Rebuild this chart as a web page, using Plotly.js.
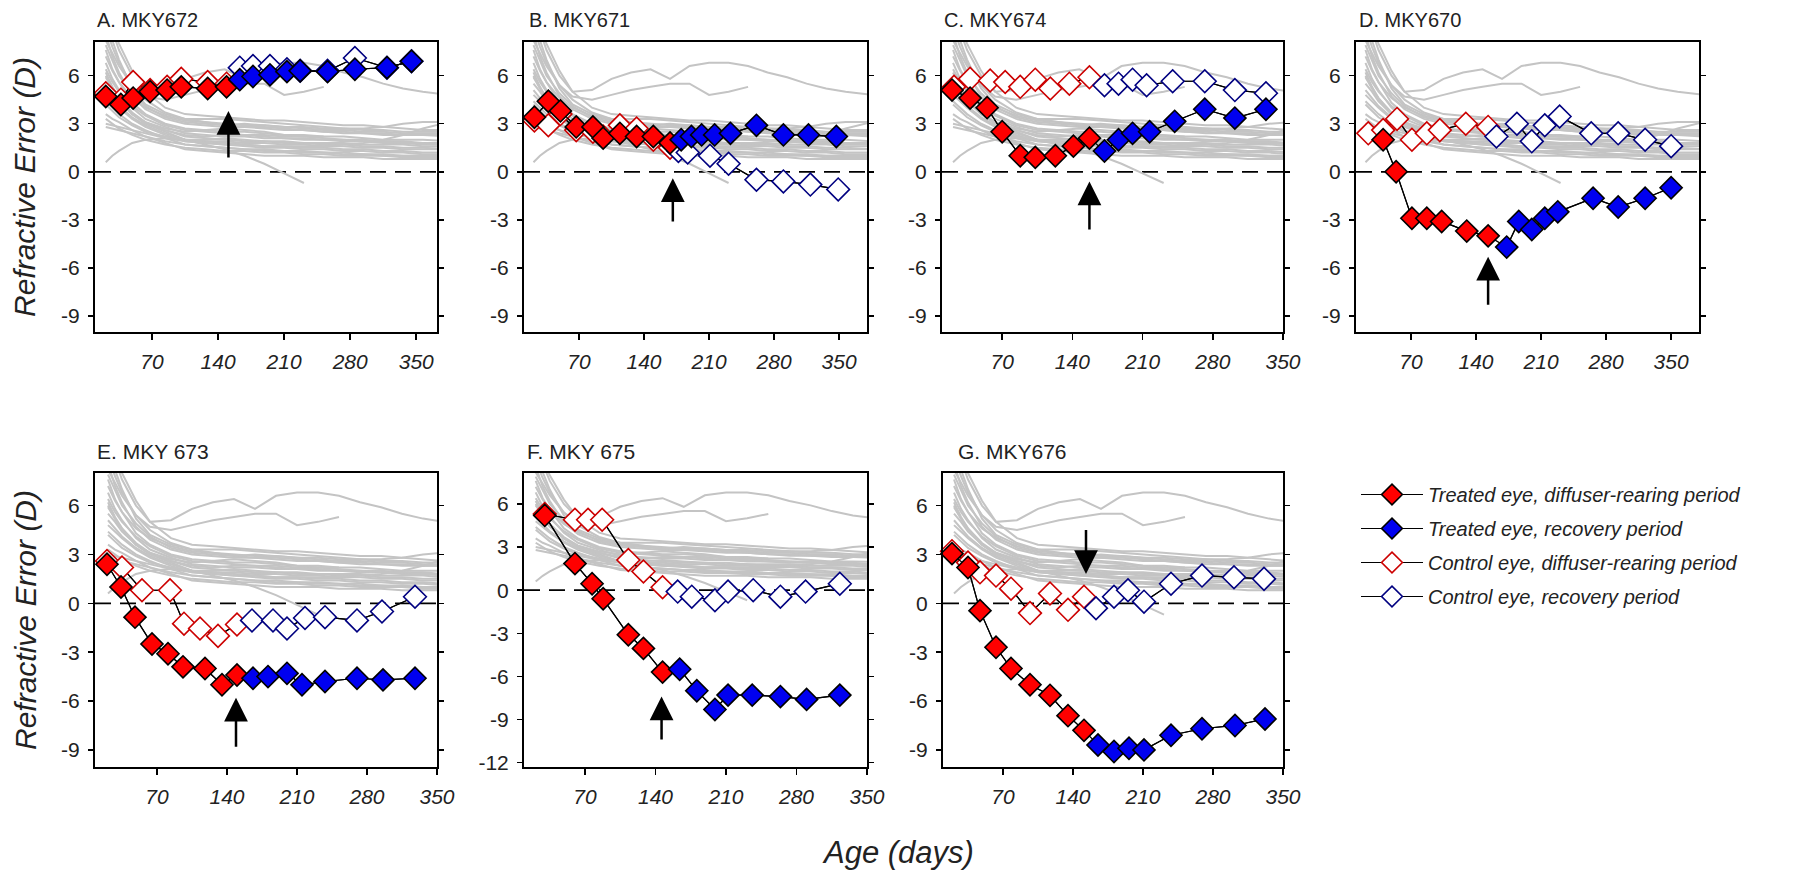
<!DOCTYPE html>
<html><head><meta charset="utf-8">
<script src="https://cdn.plot.ly/plotly-3.0.1.min.js"></script>
<style>html,body{margin:0;padding:0;background:#fff}#chart{width:1800px;height:871px}</style>
</head><body><div id="chart"></div>
<script>
// ---------------- DATA ----------------
const xTickVals = [70, 140, 210, 280, 350];
const xTickText = ['70', '140', '210', '280', '350'];
const yTickVals = [-9, -6, -3, 0, 3, 6];
const yTickText = ['-9', '-6', '-3', '0', '3', '6'];
const yTickValsF = [-12, -9, -6, -3, 0, 3, 6];
const yTickTextF = ['-12', '-9', '-6', '-3', '0', '3', '6'];

const panelTitles = ['A. MKY672', 'B. MKY671', 'C. MKY674', 'D. MKY670', 'E. MKY 673', 'F. MKY 675', 'G. MKY676'];
const legendNames = ['Treated eye, diffuser-rearing period', 'Treated eye, recovery period',
                     'Control eye, diffuser-rearing period', 'Control eye, recovery period'];
const yTitle = 'Refractive Error (D)';
const xTitle = 'Age (days)';

// normal (untreated) monkeys – grey reference lines
const normDays = [21, 28, 35, 49, 63, 84, 105, 126, 147, 168, 189, 210, 231, 252, 273, 294, 315, 336, 357, 385];
const norm01 = [10.5, 8.8, 7.6, 6.0, 5.0, 5.1, 5.8, 6.2, 6.4, 5.8, 6.6, 6.8, 6.8, 6.6, 6.2, 5.9, 5.5, 5.2, 5.0, 4.8];
const norm02 = [9.0, 7.8, 6.8, 5.4, 4.7, 4.5, 4.8, 5.1, 5.3, 5.5, 5.5, 4.8, 5.0, 5.3, null, null, null, null, null, null];
const norm03 = [6.2, 5.3, 4.6, 3.6, 3.0, 2.5, 2.0, 1.7, 1.4, 1.0, 0.5, -0.1, -0.7, null, null, null, null, null, null, null];
const norm04 = [9.8, 8.2, 7.0, 5.2, 4.2, 3.6, 3.3, 3.3, 3.3, 3.2, 3.1, 3.0, 2.9, 2.8, 2.7, 2.7, 2.8, 3.0, 3.1, 3.1];
const norm05 = [8.6, 7.2, 6.2, 4.7, 3.9, 3.3, 3.0, 2.9, 2.8, 2.8, 2.7, 2.6, 2.6, 2.5, 2.4, 2.4, 2.3, 2.3, 2.3, 2.2];
const norm06 = [7.6, 6.4, 5.6, 4.3, 3.6, 3.0, 2.7, 2.6, 2.5, 2.5, 2.4, 2.3, 2.3, 2.2, 2.2, 2.1, 2.0, 2.0, 2.0, 1.9];
const norm07 = [6.8, 5.8, 5.1, 4.0, 3.3, 2.8, 2.4, 2.3, 2.2, 2.2, 2.1, 2.1, 2.0, 2.0, 1.9, 1.9, 1.8, 1.8, 1.7, 1.7];
const norm08 = [5.9, 5.2, 4.6, 3.7, 3.1, 2.6, 2.2, 2.1, 2.0, 1.9, 1.9, 1.8, 1.8, 1.7, 1.7, 1.6, 1.6, 1.5, 1.5, 1.4];
const norm09 = [5.1, 4.6, 4.1, 3.4, 2.9, 2.4, 2.0, 1.9, 1.8, 1.7, 1.6, 1.6, 1.5, 1.5, 1.4, 1.4, 1.3, 1.3, 1.2, 1.2];
const norm10 = [4.4, 4.0, 3.6, 3.0, 2.6, 2.1, 1.7, 1.6, 1.5, 1.4, 1.3, 1.3, 1.2, 1.2, 1.1, 1.1, 1.0, 1.0, 1.0, 0.9];
const norm11 = [3.6, 3.3, 3.1, 2.6, 2.2, 1.8, 1.4, 1.3, 1.2, 1.1, 1.0, 1.0, 1.0, 0.9, 0.9, 0.9, 0.8, 0.8, 0.8, 0.8];
const norm12 = [10.0, 9.0, 8.0, 6.3, 5.0, 4.0, 3.6, 3.5, 3.4, 3.3, 3.2, 3.2, 3.1, 3.0, 2.9, 2.9, 2.8, 2.7, 2.6, 2.6];
const norm13 = [7.2, 6.3, 5.6, 4.6, 4.0, 3.5, 3.2, 3.1, 3.0, 2.9, 2.9, 2.8, 2.7, 2.6, 2.6, 2.5, 2.5, 2.4, 2.4, 2.4];
const norm14 = [6.4, 5.6, 5.0, 4.1, 3.5, 2.9, 2.6, 2.5, 2.4, 2.3, 2.3, 2.2, 2.2, 2.1, 2.0, 2.0, 1.9, 1.9, 1.8, 1.8];
const norm15 = [0.6, 1.0, 1.3, 1.8, 2.0, 2.1, 2.0, 1.9, 1.9, 1.8, 1.8, 1.7, 1.7, 1.6, 1.6, 1.5, 1.5, 1.4, 1.4, 1.4];
const norm16 = [2.8, 2.7, 2.6, 2.4, 2.2, 1.9, 1.7, 1.6, 1.5, 1.4, 1.4, 1.3, 1.3, 1.2, 1.2, 1.1, 1.1, 1.0, 1.0, 1.0];
const norm17 = [8.2, 7.4, 6.6, 5.4, 4.5, 3.7, 3.3, 3.1, 2.9, 2.8, 2.8, 2.7, 2.6, 2.5, 2.5, 2.4, 2.4, 2.3, 2.3, 2.3];
const norm18 = [4.8, 4.4, 4.0, 3.3, 2.8, 2.3, 1.9, 1.8, 1.7, 1.6, 1.5, 1.5, 1.4, 1.4, 1.3, 1.3, 1.2, 1.2, 1.1, 1.1];
const norm19 = [5.5, 5.0, 4.4, 3.6, 3.1, 2.7, 2.5, 2.6, 2.7, 2.6, 2.5, 2.3, 2.2, 2.2, null, null, null, null, null, null];
const norm20 = [3.0, 2.9, 2.8, 2.6, 2.4, 2.1, 1.9, 1.8, 1.7, 1.7, 1.6, 1.6, 1.6, 1.6, 1.7, 1.8, 2.0, 2.3, 2.7, 3.1];
const norm21 = [7.9, 6.9, 6.0, 4.9, 4.1, 3.4, 3.1, 3.0, 2.9, 3.0, 2.9, 2.8, 2.8, 2.7, 2.7, 2.6, 2.6, 2.5, 2.5, 2.5];
const norm22 = [4.2, 3.8, 3.4, 2.9, 2.5, 2.2, 2.0, 2.0, 2.1, 2.0, 1.9, 1.9, 1.8, 1.8, 1.8, 1.7, 1.7, 1.7, 1.6, 1.6];
const norm23 = [6.0, 5.2, 4.5, 3.6, 3.0, 2.6, 2.3, 2.2, 2.3, 2.3, 2.2, 2.1, 2.1, 2.0, 2.0, 1.9, 1.9, 1.8, 1.8, 1.7];
const norm24 = [3.3, 3.0, 2.7, 2.3, 2.0, 1.7, 1.5, 1.4, 1.3, 1.3, 1.2, 1.2, 1.1, 1.1, 1.0, 1.0, 1.0, 0.9, 0.9, 0.9];
const normLines = [norm01, norm02, norm03, norm04, norm05, norm06, norm07, norm08, norm09, norm10,
                   norm11, norm12, norm13, norm14, norm15, norm16, norm17, norm18, norm19, norm20,
                   norm21, norm22, norm23, norm24];

// A. MKY672
const dayTD_A = [21, 37, 50, 68, 86, 101, 129, 149];
const reTD_A  = [4.7, 4.2, 4.6, 5.0, 5.1, 5.3, 5.2, 5.3];
const dayCD_A = [21, 37, 50, 68, 86, 101, 129, 149];
const reCD_A  = [4.9, 4.5, 5.6, 5.1, 5.3, 5.8, 5.6, 5.5];
const dayTR_A = [163, 177, 195, 213, 227, 256, 285, 319, 345];
const reTR_A  = [5.75, 5.95, 6.05, 6.25, 6.3, 6.25, 6.4, 6.5, 6.9];
const dayCR_A = [163, 177, 195, 213, 227, 256, 285, 319, 345];
const reCR_A  = [6.5, 6.6, 6.6, 6.4, 6.3, 6.3, 7.1, 6.5, 6.9];
// B. MKY671
const dayTD_B = [22, 37, 50, 67, 85, 96, 114, 132, 150, 168];
const reTD_B  = [3.4, 4.4, 3.8, 2.8, 2.8, 2.1, 2.4, 2.2, 2.2, 1.8];
const dayCD_B = [22, 37, 50, 67, 85, 96, 114, 132, 150, 168];
const reCD_B  = [3.2, 2.9, 3.6, 2.6, 2.5, 2.2, 2.9, 2.7, 2.0, 1.5];
const dayTR_B = [180, 191, 202, 216, 233, 261, 290, 317, 347];
const reTR_B  = [2.0, 2.2, 2.3, 2.3, 2.4, 2.9, 2.3, 2.3, 2.2];
const dayCR_B = [177, 187, 211, 231, 261, 290, 319, 349];
const reCR_B  = [1.3, 1.2, 1.0, 0.5, -0.5, -0.6, -0.8, -1.1];
// C. MKY674
const dayTD_C = [20, 38, 55, 70, 88, 103, 123, 141, 157];
const reTD_C  = [5.1, 4.6, 4.0, 2.5, 1.0, 0.9, 1.0, 1.6, 2.1];
const dayCD_C = [22, 38, 58, 73, 88, 103, 118, 137, 157];
const reCD_C  = [5.3, 5.8, 5.7, 5.6, 5.3, 5.75, 5.2, 5.5, 5.9];
const dayTR_C = [172, 186, 200, 217, 242, 272, 302, 333];
const reTR_C  = [1.3, 2.0, 2.4, 2.5, 3.15, 3.9, 3.35, 3.9];
const dayCR_C = [172, 186, 200, 214, 240, 272, 302, 333];
const reCR_C  = [5.4, 5.5, 5.75, 5.4, 5.65, 5.65, 5.1, 4.9];
// D. MKY670
const dayTD_D = [40, 54, 71, 87, 103, 130, 153];
const reTD_D  = [2.0, 0.0, -2.9, -2.9, -3.1, -3.7, -4.0];
const dayCD_D = [24, 40, 55, 71, 87, 101, 129, 153];
const reCD_D  = [2.4, 2.6, 3.3, 2.0, 2.4, 2.6, 3.0, 2.8];
const dayTR_D = [173, 186, 200, 214, 228, 266, 293, 322, 350];
const reTR_D  = [-4.7, -3.1, -3.6, -2.9, -2.5, -1.65, -2.2, -1.65, -1.0];
const dayCR_D = [162, 184, 200, 214, 230, 264, 293, 322, 350];
const reCR_D  = [2.2, 3.0, 1.9, 2.9, 3.45, 2.4, 2.4, 2.0, 1.6];
// E. MKY 673
const dayTD_E = [20, 34, 48, 65, 81, 96, 118, 135, 150];
const reTD_E  = [2.4, 1.0, -0.85, -2.5, -3.1, -3.9, -4.0, -5.0, -4.4];
const dayCD_E = [20, 35, 55, 83, 97, 113, 131, 150];
const reCD_E  = [2.6, 2.2, 0.8, 0.8, -1.25, -1.55, -2.0, -1.3];
const dayTR_E = [166, 181, 200, 215, 238, 270, 296, 328];
const reTR_E  = [-4.6, -4.5, -4.3, -5.0, -4.8, -4.6, -4.7, -4.6];
const dayCR_E = [165, 186, 200, 218, 238, 270, 295, 328];
const reCR_E  = [-1.05, -1.05, -1.55, -0.9, -0.85, -1.05, -0.5, 0.4];
// F. MKY 675
const dayTD_F = [30, 60, 77, 88, 113, 128, 147];
const reTD_F  = [5.2, 1.85, 0.45, -0.6, -3.1, -4.05, -5.7];
const dayCD_F = [30, 60, 73, 87, 113, 128, 147];
const reCD_F  = [5.3, 4.9, 4.9, 4.9, 2.1, 1.3, 0.2];
const dayTR_F = [164, 181, 199, 212, 236, 264, 290, 323];
const reTR_F  = [-5.5, -7.0, -8.3, -7.3, -7.3, -7.4, -7.6, -7.3];
const dayCR_F = [162, 176, 199, 212, 237, 264, 289, 323];
const reCR_F  = [-0.1, -0.45, -0.7, -0.1, 0.0, -0.45, -0.1, 0.45];
// G. MKY676
const dayTD_G = [19, 35, 47, 63, 78, 97, 117, 135, 151];
const reTD_G  = [3.05, 2.2, -0.45, -2.7, -4.0, -5.0, -5.65, -6.9, -7.8];
const dayCD_G = [19, 35, 47, 63, 78, 97, 117, 135, 151];
const reCD_G  = [3.2, 2.5, 1.9, 1.7, 0.9, -0.6, 0.6, -0.4, 0.4];
const dayTR_G = [165, 181, 196, 211, 238, 269, 302, 332];
const reTR_G  = [-8.7, -9.1, -8.9, -9.0, -8.1, -7.7, -7.5, -7.1];
const dayCR_G = [163, 181, 195, 211, 238, 269, 301, 331];
const reCR_G  = [-0.3, 0.4, 0.8, 0.1, 1.2, 1.7, 1.6, 1.5];

// end of diffuser rearing (arrows): age, arrow tip, arrow tail
const arrowDay  = [151, 171, 157, 153, 149, 146, 153];
const arrowTip  = [3.8, -0.4, -0.6, -5.3, -5.8, -7.4, 1.8];
const arrowTail = [0.8, -3.2, -3.7, -8.4, -8.9, -10.5, 4.6];

const panels = [
  {td: [dayTD_A, reTD_A], cd: [dayCD_A, reCD_A], tr: [dayTR_A, reTR_A], cr: [dayCR_A, reCR_A]},
  {td: [dayTD_B, reTD_B], cd: [dayCD_B, reCD_B], tr: [dayTR_B, reTR_B], cr: [dayCR_B, reCR_B]},
  {td: [dayTD_C, reTD_C], cd: [dayCD_C, reCD_C], tr: [dayTR_C, reTR_C], cr: [dayCR_C, reCR_C]},
  {td: [dayTD_D, reTD_D], cd: [dayCD_D, reCD_D], tr: [dayTR_D, reTR_D], cr: [dayCR_D, reCR_D]},
  {td: [dayTD_E, reTD_E], cd: [dayCD_E, reCD_E], tr: [dayTR_E, reTR_E], cr: [dayCR_E, reCR_E]},
  {td: [dayTD_F, reTD_F], cd: [dayCD_F, reCD_F], tr: [dayTR_F, reTR_F], cr: [dayCR_F, reCR_F]},
  {td: [dayTD_G, reTD_G], cd: [dayCD_G, reCD_G], tr: [dayTR_G, reTR_G], cr: [dayCR_G, reCR_G]}
];

// ---------------- LAYOUT CONFIG ----------------
const W = 1800, H = 871;
const FONT = 'Liberation Sans, Arial, Helvetica, sans-serif';
const boxes = [
  {l: 95,  r: 437,  t: 42,  b: 332, xr: [9.6, 372],  yr: [-10, 8.1], tx: 95},
  {l: 524, r: 867,  t: 42,  b: 332, xr: [10.8, 380], yr: [-10, 8.1], tx: 527},
  {l: 942, r: 1283, t: 42,  b: 332, xr: [10, 350],   yr: [-10, 8.1], tx: 942},
  {l: 1356,r: 1699, t: 42,  b: 332, xr: [10.8, 380], yr: [-10, 8.1], tx: 1357},
  {l: 95,  r: 437,  t: 473, b: 767, xr: [8, 350],    yr: [-10.05, 8.0], tx: 95},
  {l: 524, r: 867,  t: 473, b: 767, xr: [9.4, 350],  yr: [-12.3, 8.15], tx: 525},
  {l: 943, r: 1283, t: 473, b: 767, xr: [10, 350],   yr: [-10.05, 8.0], tx: 956}
];
const seriesStyle = {
  td: {fill: '#ff0000', edge: '#000000', size: 17, rank: 1},
  tr: {fill: '#0000f0', edge: '#000000', size: 17, rank: 2},
  cd: {fill: '#ffffff', edge: '#cc0000', size: 17.5, rank: 3},
  cr: {fill: '#ffffff', edge: '#000080', size: 17.5, rank: 4}
};
const seriesName = {td: legendNames[0], tr: legendNames[1], cd: legendNames[2], cr: legendNames[3]};

const traces = [];
const layout = {
  width: W, height: H,
  margin: {l: 0, r: 0, t: 0, b: 0},
  paper_bgcolor: '#ffffff', plot_bgcolor: '#ffffff',
  font: {family: FONT, color: '#222'},
  showlegend: true,
  legend: {x: 1356 / W, y: 1 - 475 / H, xanchor: 'left', yanchor: 'top',
           font: {family: FONT, size: 20, color: '#222', style: 'italic'},
           bgcolor: 'rgba(0,0,0,0)', borderwidth: 0, traceorder: 'grouped',
           tracegroupgap: 5, itemwidth: 62},
  annotations: [], shapes: []
};

panels.forEach((p, i) => {
  const k = i + 1;
  const xa = k === 1 ? 'x' : 'x' + k;
  const ya = k === 1 ? 'y' : 'y' + k;
  const bx = boxes[i];
  const isF = i === 5;

  const gx = [], gy = [];
  normLines.forEach(line => {
    normDays.forEach((d, j) => { gx.push(d); gy.push(line[j]); });
    gx.push(null); gy.push(null);
  });
  traces.push({x: gx, y: gy, xaxis: xa, yaxis: ya, type: 'scatter', mode: 'lines',
    line: {color: '#c4c4c4', width: 2}, hoverinfo: 'skip', showlegend: false});

  traces.push({x: p.td[0].concat(p.tr[0]), y: p.td[1].concat(p.tr[1]), xaxis: xa, yaxis: ya,
    type: 'scatter', mode: 'lines', line: {color: '#000', width: 1.2}, hoverinfo: 'skip', showlegend: false});
  traces.push({x: p.cd[0].concat(p.cr[0]), y: p.cd[1].concat(p.cr[1]), xaxis: xa, yaxis: ya,
    type: 'scatter', mode: 'lines', line: {color: '#000', width: 1.2}, hoverinfo: 'skip', showlegend: false});

  ['cd', 'cr', 'td', 'tr'].forEach(key => {
    const st = seriesStyle[key];
    traces.push({
      x: p[key][0], y: p[key][1], xaxis: xa, yaxis: ya, type: 'scatter', mode: 'lines+markers',
      name: seriesName[key], legendgroup: key, legendrank: st.rank, showlegend: i === 0,
      line: {color: '#000', width: 1.2},
      marker: {symbol: 'diamond', size: st.size, color: st.fill, line: {color: st.edge, width: 1.6}},
      cliponaxis: false
    });
  });

  layout['xaxis' + (k === 1 ? '' : k)] = {
    domain: [bx.l / W, bx.r / W], range: bx.xr, anchor: ya,
    tickmode: 'array', tickvals: xTickVals, ticktext: xTickText,
    ticks: 'outside', ticklen: 6, tickwidth: 1.5, tickcolor: '#000',
    showline: true, linewidth: 2, linecolor: '#000', mirror: true,
    showgrid: false, zeroline: false, ticklabelstandoff: 4,
    tickfont: {family: FONT, size: 21, color: '#222', style: 'italic'}
  };
  layout['yaxis' + (k === 1 ? '' : k)] = {
    domain: [1 - bx.b / H, 1 - bx.t / H], range: bx.yr, anchor: xa,
    tickmode: 'array', tickvals: isF ? yTickValsF : yTickVals, ticktext: isF ? yTickTextF : yTickText,
    ticks: 'outside', ticklen: 5, tickwidth: 1.5, tickcolor: '#000',
    showline: true, linewidth: 2, linecolor: '#000', mirror: 'ticks',
    showgrid: false, zeroline: false, ticklabelstandoff: 4,
    tickfont: {family: FONT, size: 21, color: '#222'}
  };

  layout.shapes.push({type: 'line', xref: xa + ' domain', yref: ya, x0: 0, x1: 1, y0: 0, y1: 0,
    line: {color: '#000', width: 1.8, dash: '16px,9px'}, layer: 'below'});

  layout.annotations.push({xref: 'paper', yref: 'paper', x: bx.tx / W, y: 1 - (bx.t - 22) / H,
    xanchor: 'left', yanchor: 'middle', text: panelTitles[i], showarrow: false,
    font: {family: FONT, size: i < 4 ? 20 : 21, color: '#222'}});

  layout.annotations.push({xref: xa, yref: ya, axref: xa, ayref: ya,
    x: arrowDay[i], y: arrowTip[i], ax: arrowDay[i], ay: arrowTail[i],
    text: '', showarrow: true, arrowhead: 2, arrowsize: 1.9, arrowwidth: 2.5, arrowcolor: '#000', standoff: 0});
});

[0, 4].forEach(i => {
  const bx = boxes[i];
  layout.annotations.push({xref: 'paper', yref: 'paper', x: 25 / W, y: 1 - ((bx.t + bx.b) / 2) / H,
    xanchor: 'center', yanchor: 'middle', textangle: -90, text: yTitle, showarrow: false,
    font: {family: FONT, size: 30, color: '#222', style: 'italic'}});
});
layout.annotations.push({xref: 'paper', yref: 'paper', x: 898 / W, y: 1 - 852 / H,
  xanchor: 'center', yanchor: 'middle', text: xTitle, showarrow: false,
  font: {family: FONT, size: 31, color: '#222', style: 'italic'}});

Plotly.newPlot('chart', traces, layout, {displayModeBar: false, staticPlot: true});
</script></body></html>
